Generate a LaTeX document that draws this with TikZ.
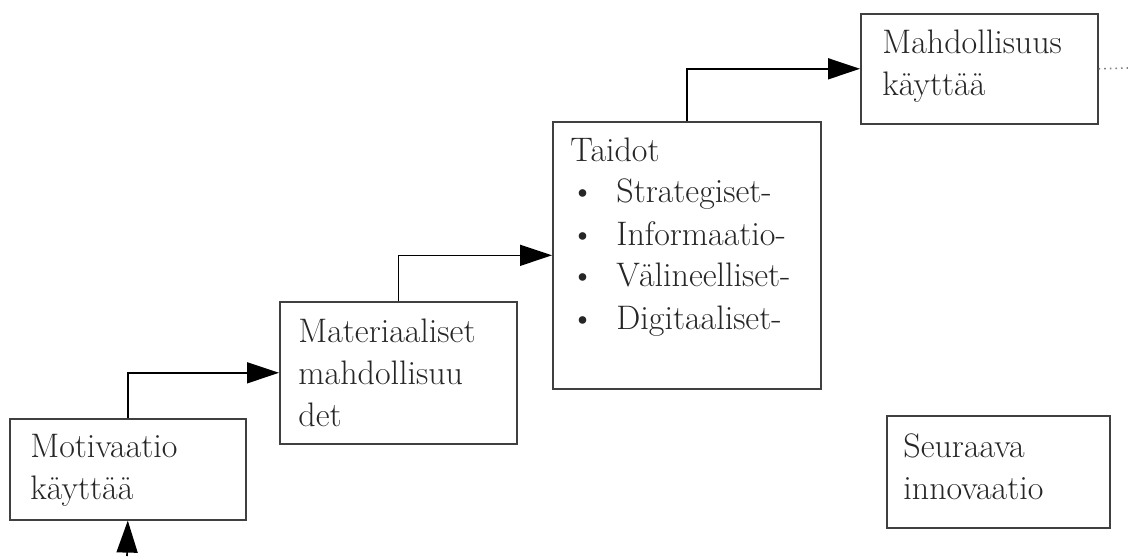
\documentclass[tikz,border=0pt]{standalone}
\usetikzlibrary{arrows.meta}
\begin{document}
\begin{tikzpicture}[x=0.5pt,y=-0.5pt,
  box/.style={draw=black!75, line width=0.8pt, inner sep=0pt, anchor=north west},
  txt/.style={font=\fontsize{17}{21}\selectfont, align=left, inner sep=0pt, anchor=north west, text=black!85},
  conn/.style={draw=black, line width=0.8pt, -{Triangle[length=16pt,width=10.5pt]}},
  trail/.style={draw=gray, line width=0.8pt, dotted}]
\useasboundingbox (0,0) rectangle (1128,556);
% boxes
\node[box, minimum width=118pt, minimum height=50.5pt] (mot) at (9,418) {};
\node[box, minimum width=118.5pt, minimum height=71pt] (mat) at (279,301) {};
\node[box, minimum width=134pt, minimum height=133.5pt] (tai) at (552,121) {};
\node[box, minimum width=118.5pt, minimum height=55pt] (mah) at (860,13) {};
\node[box, minimum width=111.5pt, minimum height=56pt] (seu) at (886,415) {};
% texts
\node[txt] (tmot) at (30,434) {Motivaatio\\käyttää};
\node[txt] (tmat) at (298,318) {Materiaaliset\\mahdollisuu\\det};
\node[txt] (ttai) at (570,137) {Taidot\\
  \makebox[23pt][l]{\textbullet}Strategiset-\\
  \makebox[23pt][l]{\textbullet}Informaatio-\\
  \makebox[23pt][l]{\textbullet}Välineelliset-\\
  \makebox[23pt][l]{\textbullet}Digitaaliset-};
\node[txt] (tmah) at (882,30) {Mahdollisuus\\käyttää};
\node[txt] (tseu) at (903,433) {Seuraava\\innovaatio};
% connectors
\coordinate (bot) at (127,556);
\coordinate (rend) at (1128,68);
\draw[conn] (bot) -- (mot.south);
\draw[conn] (mot.north) |- (mat.west);
\draw[conn] (mat.north) |- (tai.west);
\draw[conn] (tai.north) |- (mah.west);
\draw[trail] (mah.east) -- (rend);
\end{tikzpicture}
\end{document}
